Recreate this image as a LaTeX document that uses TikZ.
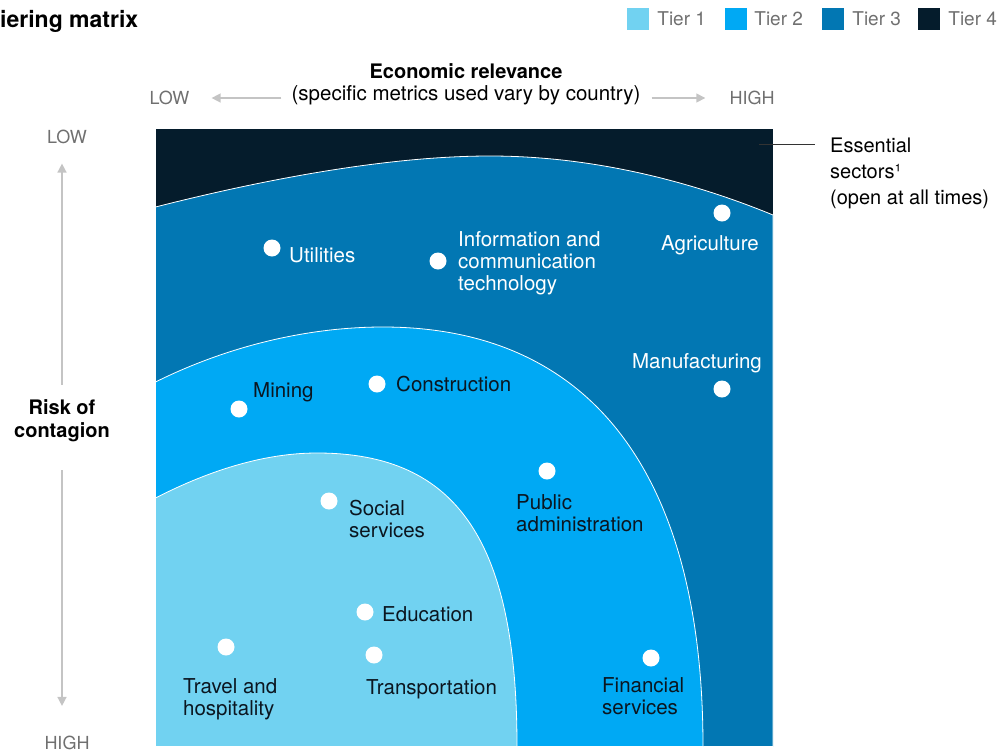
\documentclass[tikz,border=0pt]{standalone}
\usepackage{fontspec}
\setmainfont{TeX Gyre Heros}
\usetikzlibrary{positioning,arrows.meta}

\definecolor{tierone}{HTML}{71D2F1}
\definecolor{tiertwo}{HTML}{00A9F4}
\definecolor{tierthree}{HTML}{0277B3}
\definecolor{tierfour}{HTML}{051C2C}
\definecolor{inktext}{HTML}{0B1620}
\definecolor{axisgray}{HTML}{707070}
\definecolor{arrowgray}{HTML}{C4C4C4}

\begin{document}
\begin{tikzpicture}[x=1pt,y=-1pt,
	dot/.style={circle,fill=white,inner sep=0pt,minimum size=17pt},
	lbl/.style={font=\fontsize{20.5}{22}\selectfont,text=inktext,align=left,inner sep=0pt,anchor=west},
	lblw/.style={lbl,text=white},
	axistext/.style={font=\fontsize{18}{20}\selectfont,text=axisgray,inner sep=0pt},
	axisarrow/.style={draw=arrowgray,line width=1.5pt,-{Triangle[length=9pt,width=9pt]}},
	tier/.style={draw=white,line width=0.8pt},
	legbox/.style={minimum size=22pt,inner sep=0pt},
	legtext/.style={font=\fontsize{19}{21}\selectfont,text=axisgray,inner sep=0pt},
	heading/.style={font=\bfseries\fontsize{20}{23}\selectfont,text=black,align=center,inner sep=0pt}]
	\useasboundingbox (0,0) rectangle (1005,753);

	% title and legend
	\node[font=\bfseries\fontsize{23}{26}\selectfont,anchor=west,inner sep=0pt] (title) at (0,21) {iering matrix};
	\node[legbox,fill=tierone] (leg1) at (638,19) {};
	\node[legtext,right=8pt of leg1] (leg1txt) {Tier 1};
	\node[legbox,fill=tiertwo] (leg2) at (736,19) {};
	\node[legtext,right=7pt of leg2] (leg2txt) {Tier 2};
	\node[legbox,fill=tierthree] (leg3) at (833,19) {};
	\node[legtext,right=8pt of leg3] (leg3txt) {Tier 3};
	\node[legbox,fill=tierfour] (leg4) at (929,19) {};
	\node[legtext,right=8pt of leg4] (leg4txt) {Tier 4};

	% axes
	\node[heading] (econ) at (466,71) {Economic relevance};
	\node[lbl,anchor=center,text=black] (econsub) at (466,95) {(specific metrics used vary by country)};
	\node[axistext] (hlow) at (169.5,98) {LOW};
	\node[axistext] (hhigh) at (752,98) {HIGH};
	\draw[axisarrow] ([xshift=-10pt]econsub.west |- hlow) -- ([xshift=22pt]hlow.east);
	\draw[axisarrow] ([xshift=11pt]econsub.east |- hhigh) -- ([xshift=-24pt]hhigh.west);
	\node[axistext] (vlow) at (67,136.5) {LOW};
	\node[heading] (risk) at (62,421) {Risk of\\contagion};
	\node[axistext] (vhigh) at (67,743) {HIGH};
	\draw[axisarrow] ([yshift=15pt]risk.north) -- ([yshift=-20pt]risk.north |- vlow.south);
	\draw[axisarrow] ([yshift=-28pt]risk.south) -- ([yshift=30pt]risk.south |- vhigh.north);

	% tiers
	\fill[tierfour] (155.5,128.5) rectangle (773,746.5);
	\filldraw[tier,fill=tierthree] (155.5,207) .. controls (250,183) and (380,156) .. (490,156)
		.. controls (600,156) and (700,185) .. (773,215) -- (773,746.5) -- (155.5,746.5) -- cycle;
	\filldraw[tier,fill=tiertwo] (155.5,382) .. controls (230,345) and (310,327) .. (383,327)
		.. controls (591,327) and (703,474) .. (703,746.5) -- (155.5,746.5) -- cycle;
	\filldraw[tier,fill=tierone] (155.5,498) .. controls (210,470) and (265,453) .. (317,453)
		.. controls (457,453) and (517,541) .. (517,746.5) -- (155.5,746.5) -- cycle;

	% essential sectors
	\node[lbl,font=\fontsize{20}{26}\selectfont,text=black] (ess) at (830,173) {Essential\\sectors¹\\(open at all times)};
	\coordinate (esstip) at (759,144);
	\draw[black!80,line width=0.8pt] (esstip) -- ([xshift=-15pt]ess.west |- esstip);

	% sectors
	\node[dot] (util) at (272,248) {};
	\node[lblw] (utiltxt) at (289,255) {Utilities};
	\node[dot] (ict) at (438,261) {};
	\node[lblw] (icttxt) at (458,263) {Information and\\communication\\technology};
	\node[dot] (agri) at (722,213) {};
	\node[lblw,anchor=center] (agritxt) at (710,245) {Agriculture};
	\node[dot] (manu) at (722,389) {};
	\node[lblw,anchor=center] (manutxt) at (697,363) {Manufacturing};
	\node[dot] (mining) at (239,409) {};
	\node[lbl] (miningtxt) at (253,392) {Mining};
	\node[dot] (constr) at (377,384) {};
	\node[lbl] (constrtxt) at (396,384) {Construction};
	\node[dot] (pubadm) at (547,471) {};
	\node[lbl] (pubadmtxt) at (516,513) {Public\\administration};
	\node[dot] (social) at (329,501) {};
	\node[lbl] (socialtxt) at (349,518.5) {Social\\services};
	\node[dot] (edu) at (365,612) {};
	\node[lbl] (edutxt) at (382,614.5) {Education};
	\node[dot] (transp) at (374,655) {};
	\node[lbl] (transptxt) at (366,689) {Transportation};
	\node[dot] (travel) at (226,647) {};
	\node[lbl] (traveltxt) at (183,699) {Travel and\\hospitality};
	\node[dot] (fin) at (651,658) {};
	\node[lbl] (fintxt) at (602,696) {Financial\\services};
\end{tikzpicture}
\end{document}
